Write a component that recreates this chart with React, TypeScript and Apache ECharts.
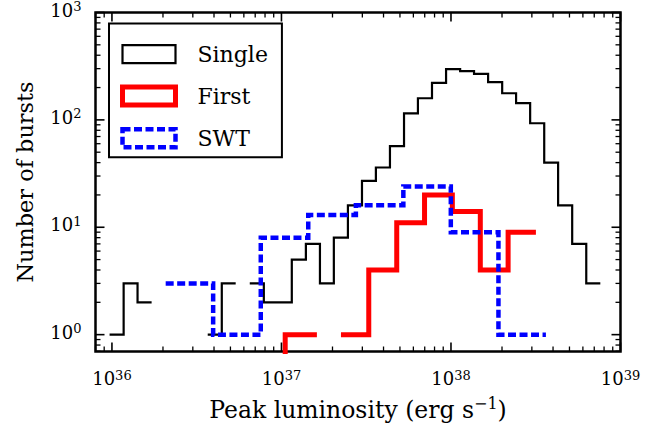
import React, { useEffect, useRef } from 'react';
import * as echarts from 'echarts';

// Axis ranges (log10 space)
const X_MIN = 35.903;
const X_MAX = 39;
const Y_MIN = -0.157;
const Y_MAX = 3;

const xMajorTicks = [36, 37, 38, 39];
const yMajorTicks = [0, 1, 2, 3];

// Histogram: Single (log10 of bin edges, counts per bin; 0 = empty bin)
const singleEdges = [
  35.986, 36.069, 36.151, 36.234, 36.317, 36.4, 36.482, 36.565, 36.648, 36.73,
  36.813, 36.896, 36.978, 37.061, 37.144, 37.227, 37.309, 37.392, 37.475, 37.557,
  37.64, 37.723, 37.805, 37.888, 37.971, 38.054, 38.136, 38.219, 38.302, 38.384,
  38.467, 38.55, 38.632, 38.715, 38.798, 38.881,
];
const singleCounts = [
  1, 3, 2, 0, 0, 0, 0, 1, 3, 0, 3, 2, 2, 5, 7, 3, 8, 16, 27, 36, 57, 115, 159, 221,
  297, 285, 268, 225, 177, 143, 93, 40, 16, 7, 3,
];

// Histogram: First
const firstEdges = [37.022, 37.209, 37.351, 37.515, 37.68, 37.844, 38.008, 38.173, 38.337, 38.501];
const firstCounts = [1, 0, 1, 4, 11, 20, 14, 4, 9];

// Histogram: SWT
const swtEdges = [36.317, 36.597, 36.878, 37.158, 37.439, 37.719, 37.999, 38.28, 38.56];
const swtCounts = [3, 1, 8, 13, 16, 24, 9, 1];

const FONT = 'DejaVu Serif';

const W = 660;
const H = 429;
const GRID = { left: 95.5, right: 39.5, top: 10, bottom: 77.5 };

function minorTicks(lo: number, hi: number): number[] {
  const out: number[] = [];
  for (let d = Math.floor(lo) - 1; d <= Math.ceil(hi); d++) {
    for (let m = 2; m <= 9; m++) {
      const v = d + Math.log10(m);
      if (v > lo && v < hi) out.push(v);
    }
  }
  return out;
}

function stepPoints(edges: number[], counts: number[], dropAtStart: boolean) {
  const pts: any[] = [];
  if (dropAtStart) pts.push([edges[0], Y_MIN - 1]);
  for (let i = 0; i < counts.length; i++) {
    const c = counts[i];
    if (c > 0) {
      const y = Math.log10(c);
      pts.push([edges[i], y], [edges[i + 1], y]);
    } else if (pts.length && pts[pts.length - 1][1] !== '-') {
      pts.push([edges[i], '-']);
    }
  }
  return pts;
}

// tick rows: [value, kind] with kind 0 = x major, 1 = x minor, 2 = y major, 3 = y minor
function tickRows(): number[][] {
  const rows: number[][] = [];
  xMajorTicks.forEach((v) => rows.push([v, 0]));
  minorTicks(X_MIN, X_MAX).forEach((v) => rows.push([v, 1]));
  yMajorTicks.forEach((v) => rows.push([v, 2]));
  minorTicks(Y_MIN, Y_MAX).forEach((v) => rows.push([v, 3]));
  return rows;
}

const supLabel = (v: number) => `{b|10}{s|${Math.round(v)}}`;
const labelRich = {
  b: { fontFamily: FONT, fontSize: 18, lineHeight: 20, color: '#000' },
  s: { fontFamily: FONT, fontSize: 13, lineHeight: 10, verticalAlign: 'top', color: '#000' },
};

function makeAxis(dim: 'x' | 'y') {
  const min = dim === 'x' ? X_MIN : Y_MIN;
  const max = dim === 'x' ? X_MAX : Y_MAX;
  const majors = dim === 'x' ? xMajorTicks : yMajorTicks;
  return {
    type: 'value',
    position: dim === 'x' ? 'bottom' : 'left',
    min,
    max,
    axisLine: { show: false, onZero: false },
    splitLine: { show: false },
    axisTick: { show: false },
    axisLabel: {
      show: true,
      customValues: majors,
      formatter: supLabel,
      rich: labelRich,
      margin: dim === 'x' ? 17 : 14,
      padding: dim === 'y' ? [0, 0, 5, 0] : 0,
    },
  } as any;
}

export default function App() {
  const ref = useRef<HTMLDivElement>(null);
  useEffect(() => {
    if (!ref.current) return;
    const chart = echarts.init(ref.current, undefined, { renderer: 'svg' });
    const xAxis = makeAxis('x');
    xAxis.name = '{a|Peak luminosity (erg s}{s|\u22121}{a|)}';
    xAxis.nameLocation = 'middle';
    xAxis.nameGap = 44;
    xAxis.nameTextStyle = {
      rich: {
        a: { fontFamily: FONT, fontSize: 23.5, lineHeight: 28, color: '#000' },
        s: { fontFamily: FONT, fontSize: 16, lineHeight: 14, verticalAlign: 'top', color: '#000' },
      },
    };
    const yAxis = makeAxis('y');
    yAxis.name = 'Number of bursts';
    yAxis.nameLocation = 'middle';
    yAxis.nameRotate = 90;
    yAxis.nameGap = 56;
    yAxis.nameTextStyle = { fontFamily: FONT, fontSize: 22.4, lineHeight: 28, color: '#000' };

    const lineSeries = (name: string, data: any[], color: string, width: number, type: any, z: number) => ({
      name,
      type: 'line',
      data,
      symbol: 'none',
      showSymbol: false,
      connectNulls: false,
      clip: true,
      z,
      itemStyle: { color },
      lineStyle: { color, width, type, cap: 'butt', join: 'miter' },
      emphasis: { disabled: true },
    });

    chart.setOption({
      animation: false,
      backgroundColor: '#fff',
      textStyle: { fontFamily: FONT },
      grid: {
        ...GRID,
        show: true,
        borderColor: '#000',
        borderWidth: 2.5,
        backgroundColor: 'transparent',
      },
      xAxis,
      yAxis,
      legend: {
        orient: 'vertical',
        left: 109,
        top: 23.5,
        padding: [19.6, 14, 7.7, 11],
        itemWidth: 53,
        itemHeight: 18,
        itemGap: 19.5,
        backgroundColor: '#fff',
        borderColor: '#000',
        borderWidth: 2,
        borderRadius: 0,
        selectedMode: false,
        z: 20,
        textStyle: {
          fontFamily: FONT,
          fontSize: 22,
          color: '#000',
          padding: [0, 0, 0, 17],
          width: 70,
        },
        data: [
          { name: 'Single', icon: 'rect', itemStyle: { color: 'rgba(0,0,0,0)', borderColor: '#000', borderWidth: 2.2 } },
          { name: 'First', icon: 'rect', itemStyle: { color: 'rgba(0,0,0,0)', borderColor: '#ff0000', borderWidth: 5 } },
          {
            name: 'SWT',
            icon: 'rect',
            itemStyle: { color: 'rgba(0,0,0,0)', borderColor: '#0000ff', borderWidth: 4.5, borderType: [8, 3.5] },
          },
        ],
      },
      series: [
        lineSeries('Single', stepPoints(singleEdges, singleCounts, false), '#000000', 2.2, 'solid', 2),
        lineSeries('First', stepPoints(firstEdges, firstCounts, true), '#ff0000', 5, 'solid', 3),
        lineSeries('SWT', stepPoints(swtEdges, swtCounts, false), '#0000ff', 4.5, [8, 3.5], 4),
        {
          type: 'custom',
          name: 'tickMarks',
          coordinateSystem: 'cartesian2d',
          z: 15,
          silent: true,
          clip: false,
          data: tickRows(),
          renderItem: (params: any, api: any) => {
            const cs = params.coordSys;
            const v = api.value(0);
            const kind = api.value(1);
            const major = kind === 0 || kind === 2;
            const len = major ? 9 : 5;
            const w = major ? 1.6 : 1.3;
            const style = { fill: '#000' };
            if (kind < 2) {
              const px = api.coord([v, Y_MIN])[0];
              return {
                type: 'group',
                children: [
                  { type: 'rect', shape: { x: px - w / 2, y: cs.y + cs.height - len, width: w, height: len }, style },
                  { type: 'rect', shape: { x: px - w / 2, y: cs.y, width: w, height: len }, style },
                ],
              };
            }
            const py = api.coord([X_MIN, v])[1];
            return {
              type: 'group',
              children: [
                { type: 'rect', shape: { x: cs.x, y: py - w / 2, width: len, height: w }, style },
                { type: 'rect', shape: { x: cs.x + cs.width - len, y: py - w / 2, width: len, height: w }, style },
              ],
            };
          },
        },
      ],
    });

    return () => chart.dispose();
  }, []);
  return (
    <div
      ref={ref}
      style={{ position: 'fixed', left: 0, top: 0, width: W, height: H, background: '#fff' }}
    />
  );
}
